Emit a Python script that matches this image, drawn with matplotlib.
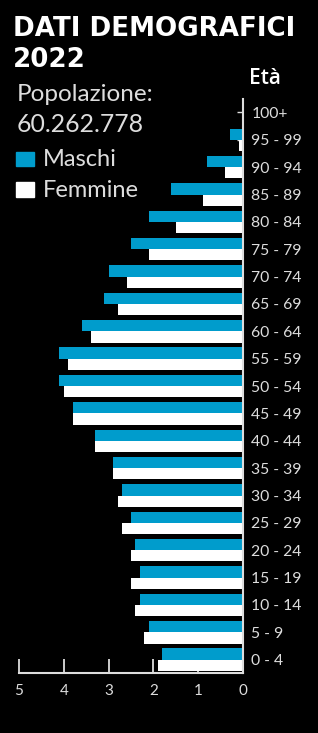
import numpy as np
import matplotlib.pyplot as plt
from matplotlib.patches import Rectangle

plt.rcParams['font.family'] = ['Lato', 'DejaVu Sans']

ages = ['0 - 4', '5 - 9', '10 - 14', '15 - 19', '20 - 24', '25 - 29', '30 - 34',
        '35 - 39', '40 - 44', '45 - 49', '50 - 54', '55 - 59', '60 - 64', '65 - 69',
        '70 - 74', '75 - 79', '80 - 84', '85 - 89', '90 - 94', '95 - 99', '100+']
maschi = [1.8, 2.1, 2.3, 2.3, 2.4, 2.5, 2.7, 2.9, 3.3, 3.8, 4.1, 4.1, 3.6, 3.1,
          3.0, 2.5, 2.1, 1.6, 0.8, 0.3, 0.0]
femmine = [1.9, 2.2, 2.4, 2.5, 2.5, 2.7, 2.8, 2.9, 3.3, 3.8, 4.0, 3.9, 3.4, 2.8,
           2.6, 2.1, 1.5, 0.9, 0.4, 0.1, 0.0]
x_ticks = [5, 4, 3, 2, 1, 0]

blue = '#009ccc'
grey = '#dddddd'
W, H = 318, 733

fig = plt.figure(figsize=(3.18, 7.33), dpi=100, facecolor='black')
ax = fig.add_axes([19 / W, 1 - 673 / H, (243 - 19) / W, (673 - 99) / H])
ax.set_facecolor('black')

y = np.arange(len(ages))
h = 0.41
ax.barh(y + h / 2, maschi, height=h, color=blue, linewidth=0)
ax.barh(y - h / 2, femmine, height=h, color='white', linewidth=0)

ax.set_xlim(5, 0)
ax.set_ylim(-0.486, 20.49)
ax.set_axisbelow(True)

for s in ['top', 'left']:
    ax.spines[s].set_visible(False)
for s in ['bottom', 'right']:
    ax.spines[s].set_color(grey)
    ax.spines[s].set_linewidth(1.5)

ax.set_xticks(x_ticks)
ax.set_xticklabels([str(t) for t in x_ticks])
ax.tick_params(axis='x', direction='in', length=10, width=1.3, color=grey,
               labelcolor=grey, labelsize=11, pad=8)
ax.yaxis.tick_right()
ax.set_yticks(y)
ax.set_yticklabels(ages)
ax.tick_params(axis='y', direction='in', length=4, width=1, color=grey,
               labelcolor=grey, labelsize=11.3, pad=6)

title_font = ['DejaVu Sans']
fig.text(13 / W, 1 - 36 / H, 'DATI DEMOGRAFICI', color='white', family=title_font,
         fontsize=18.8, fontweight='bold', va='baseline', ha='left')
fig.text(13 / W, 1 - 67 / H, '2022', color='white', family=title_font,
         fontsize=18.8, fontweight='bold', va='baseline', ha='left')
fig.text(249 / W, 1 - 84 / H, 'Età', color='white', family=['Open Sans', 'DejaVu Sans'],
         fontsize=15, fontweight='semibold', fontstretch='normal',
         va='baseline', ha='left')
fig.text(17 / W, 1 - 101 / H, 'Popolazione:', color=grey, fontsize=17.5,
         va='baseline', ha='left')
fig.text(17 / W, 1 - 132 / H, '60.262.778', color=grey, fontsize=17.8,
         va='baseline', ha='left')

fig.patches.append(Rectangle((16 / W, 1 - 166 / H), 18 / W, 14 / H,
                             transform=fig.transFigure, color=blue))
fig.patches.append(Rectangle((16 / W, 1 - 197 / H), 18 / W, 15 / H,
                             transform=fig.transFigure, color='white'))
fig.text(43 / W, 1 - 166 / H, 'Maschi', color=grey, fontsize=17,
         va='baseline', ha='left')
fig.text(43 / W, 1 - 197 / H, 'Femmine', color=grey, fontsize=17,
         va='baseline', ha='left')

fig.savefig('out.png', dpi=100, facecolor='black')
